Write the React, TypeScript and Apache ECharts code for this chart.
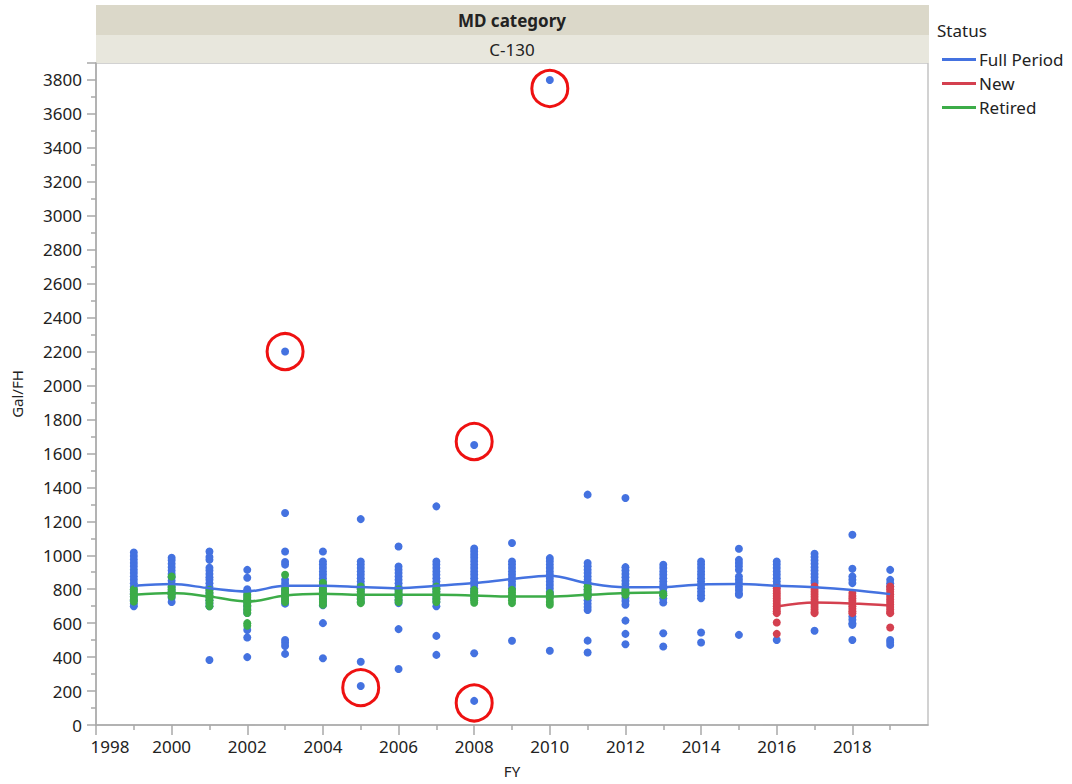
import React, { useEffect, useRef } from "react";
import * as echarts from "echarts";

const fullYears = [1999, 2000, 2001, 2002, 2003, 2004, 2005, 2006, 2007, 2008, 2009, 2010, 2011, 2012, 2013, 2014, 2015, 2016, 2017, 2018, 2019];
const fullPeriodValues: number[][] = [
  [1016, 995, 975, 955, 935, 915, 895, 875, 855, 835, 815, 795, 775, 755, 735, 715, 700],
  [985, 970, 950, 930, 910, 890, 870, 850, 830, 810, 790, 770, 750, 725],
  [1022, 990, 973, 926, 910, 890, 870, 855, 835, 815, 795, 775, 755, 735, 715, 700, 383],
  [914, 867, 800, 780, 760, 740, 720, 700, 680, 660, 560, 515, 400],
  [2200, 1249, 1022, 960, 945, 855, 835, 815, 795, 775, 755, 735, 715, 501, 485, 465, 419],
  [1022, 963, 945, 925, 905, 885, 865, 845, 825, 805, 785, 765, 745, 725, 705, 600, 393],
  [1213, 963, 945, 925, 905, 885, 865, 845, 825, 805, 785, 765, 745, 725, 373, 230],
  [1052, 934, 915, 895, 875, 855, 835, 815, 795, 775, 755, 735, 718, 565, 330],
  [1288, 963, 945, 925, 905, 885, 865, 845, 825, 805, 785, 765, 745, 725, 700, 525, 413],
  [1650, 1040, 1022, 1003, 985, 965, 945, 925, 905, 885, 865, 845, 825, 805, 785, 765, 745, 423, 142],
  [1072, 963, 945, 925, 905, 885, 865, 845, 825, 805, 496],
  [3800, 983, 965, 945, 925, 905, 885, 865, 845, 825, 805, 785, 767, 437],
  [1357, 954, 935, 915, 895, 875, 855, 835, 815, 795, 775, 755, 735, 715, 695, 678, 497, 427],
  [1337, 930, 910, 890, 870, 850, 830, 810, 790, 770, 750, 730, 708, 615, 537, 476],
  [944, 925, 905, 885, 865, 845, 825, 805, 785, 765, 745, 722, 541, 462],
  [963, 945, 925, 905, 885, 865, 845, 825, 805, 785, 765, 747, 545, 486],
  [1038, 973, 955, 935, 914, 875, 855, 835, 815, 795, 775, 767, 531],
  [963, 945, 925, 905, 885, 865, 845, 825, 816, 501],
  [1009, 990, 970, 950, 930, 910, 890, 870, 850, 836, 555],
  [1121, 920, 875, 855, 836, 639, 620, 600, 590, 501],
  [914, 855, 835, 816, 501, 487, 472],
];
const fullPeriodFit = [820, 830, 806, 787, 820, 820, 813, 806, 820, 836, 860, 879, 836, 812, 813, 828, 830, 820, 812, 796, 771];

const retiredYears = [1999, 2000, 2001, 2002, 2003, 2004, 2005, 2006, 2007, 2008, 2009, 2010, 2011, 2012, 2013];
const retiredValues: number[][] = [
  [800, 785, 770, 755, 740, 727],
  [875, 816, 800, 785, 770, 757],
  [796, 780, 765, 750, 735, 720, 700],
  [767, 750, 735, 720, 705, 690, 675, 660, 600, 585],
  [885, 800, 785, 770, 755, 740, 725],
  [838, 820, 800, 785, 770, 755, 740, 725, 708],
  [816, 800, 785, 770, 755, 740, 725, 718],
  [800, 785, 770, 755, 740, 725],
  [816, 800, 785, 770, 755, 740, 725],
  [796, 780, 765, 750, 735, 720],
  [796, 780, 765, 750, 735, 718],
  [777, 760, 745, 725, 708],
  [816, 800, 785, 770, 757],
  [796, 780, 767],
  [775, 765],
];
const retiredFit = [767, 777, 757, 727, 763, 773, 767, 767, 767, 763, 757, 757, 767, 777, 780];

const newYears = [2016, 2017, 2018, 2019];
const newValues: number[][] = [
  [806, 790, 775, 760, 745, 730, 715, 700, 685, 670, 659, 604, 537],
  [816, 800, 785, 770, 755, 740, 725, 710, 695, 680, 665, 659],
  [778, 760, 745, 730, 715, 700, 685, 670, 659],
  [816, 800, 785, 770, 755, 740, 725, 710, 695, 680, 665, 659, 574],
];
const newFit = [698, 722, 716, 704];

const circledYears = [2010, 2003, 2008, 2005, 2008];
const circledValues = [3750, 2200, 1670, 220, 130];

const xLabelTicks = [1998, 2000, 2002, 2004, 2006, 2008, 2010, 2012, 2014, 2016, 2018];

const BLUE = "#4472e0";
const RED = "#d4404f";
const GREEN = "#3cac48";
const FONT = "'Noto Sans', 'Open Sans', sans-serif";
const TXT = "#222222";

function toPoints(years: number[], values: number[][]) {
  const out: number[][] = [];
  years.forEach((y, i) => values[i].forEach((v) => out.push([y, v])));
  return out;
}
function toLine(years: number[], values: number[]) {
  return years.map((y, i) => [y, values[i]]);
}

export default function App() {
  const ref = useRef<HTMLDivElement>(null);
  useEffect(() => {
    if (!ref.current) return;
    const chart = echarts.init(ref.current, undefined, { renderer: "svg" });
    const left = 96, right = 928, top = 63, bottom = 725;
    const dot = (color: string) => ({ color, opacity: 1 });
    chart.setOption({
      animation: false,
      textStyle: { fontFamily: FONT },
      grid: {
        left,
        top,
        width: right - left,
        height: bottom - top,
        show: true,
        borderColor: "#c4c4c4",
        borderWidth: 1.5,
        backgroundColor: "#ffffff",
      },
      legend: {
        orient: "vertical",
        left: 937,
        top: 45,
        itemWidth: 34,
        itemHeight: 3,
        itemGap: 5,
        icon: "rect",
        selectedMode: false,
        textStyle: { fontFamily: FONT, fontSize: 17, color: TXT, lineHeight: 19, padding: [0, 0, 0, -2] },
        data: [
          { name: "Full Period", itemStyle: { color: BLUE } },
          { name: "New", itemStyle: { color: RED } },
          { name: "Retired", itemStyle: { color: GREEN } },
        ],
      },
      xAxis: {
        type: "value",
        min: 1998,
        max: 2020,
        interval: 2,
        name: "FY",
        nameLocation: "middle",
        nameGap: 38,
        nameTextStyle: { fontFamily: FONT, fontSize: 15, color: TXT },
        splitLine: { show: false },
        axisLine: { lineStyle: { color: "#a8a8a8", width: 1.5 } },
        axisTick: { customValues: xLabelTicks, length: 10, lineStyle: { color: "#a8a8a8", width: 1.5 } },
        minorTick: { show: true, splitNumber: 2, length: 5, lineStyle: { color: "#a8a8a8", width: 1.5 } },
        axisLabel: {
          customValues: xLabelTicks,
          margin: 13,
          fontFamily: FONT,
          fontSize: 17,
          color: TXT,
          formatter: (v: number) => (v === 1998 ? "{a|1998}" : String(v)),
          rich: { a: { fontFamily: FONT, fontSize: 17, color: TXT, padding: [0, 0, 0, 28] } },
        },
      },
      yAxis: {
        type: "value",
        min: 0,
        max: 3900,
        interval: 200,
        name: "Gal/FH",
        nameLocation: "middle",
        nameGap: 72,
        nameRotate: 90,
        nameTextStyle: { fontFamily: FONT, fontSize: 15, color: TXT },
        splitLine: { show: false },
        axisLine: { show: true, lineStyle: { color: "#a8a8a8", width: 1.5 } },
        axisTick: { show: true, length: 9, lineStyle: { color: "#a8a8a8", width: 1.5 } },
        minorTick: { show: true, splitNumber: 2, length: 5, lineStyle: { color: "#a8a8a8", width: 1.5 } },
        axisLabel: {
          showMaxLabel: false,
          margin: 14,
          fontFamily: FONT,
          fontSize: 17,
          color: TXT,
          formatter: (v: number) => String(v),
        },
      },
      graphic: [
        { type: "rect", shape: { x: left, y: 5, width: right - left + 1, height: 30 }, style: { fill: "#dbd8c9" }, silent: true },
        { type: "rect", shape: { x: left, y: 35, width: right - left + 1, height: 28 }, style: { fill: "#e8e7dd" }, silent: true },
        { type: "text", x: (left + right) / 2, y: 20, style: { text: "MD category", font: `bold 17px ${FONT}`, fill: TXT, textAlign: "center", textVerticalAlign: "middle" }, silent: true },
        { type: "text", x: (left + right) / 2, y: 49, style: { text: "C-130", font: `17px ${FONT}`, fill: TXT, textAlign: "center", textVerticalAlign: "middle" }, silent: true },
        { type: "text", x: 937, y: 30, style: { text: "Status", font: `17px ${FONT}`, fill: TXT, textAlign: "left", textVerticalAlign: "middle" }, silent: true },
      ],
      series: [
        { name: "Full Period pts", type: "scatter", symbol: "circle", symbolSize: 8, itemStyle: dot(BLUE), data: toPoints(fullYears, fullPeriodValues), z: 2 },
        { name: "New pts", type: "scatter", symbol: "circle", symbolSize: 8, itemStyle: dot(RED), data: toPoints(newYears, newValues), z: 3 },
        { name: "Retired pts", type: "scatter", symbol: "circle", symbolSize: 8, itemStyle: dot(GREEN), data: toPoints(retiredYears, retiredValues), z: 3 },
        { name: "Full Period", type: "line", smooth: 0.35, showSymbol: false, lineStyle: { color: BLUE, width: 2.5 }, itemStyle: { color: BLUE }, data: toLine(fullYears, fullPeriodFit), z: 4 },
        { name: "New", type: "line", smooth: 0.35, showSymbol: false, lineStyle: { color: RED, width: 2.5 }, itemStyle: { color: RED }, data: toLine(newYears, newFit), z: 4 },
        { name: "Retired", type: "line", smooth: 0.35, showSymbol: false, lineStyle: { color: GREEN, width: 2.5 }, itemStyle: { color: GREEN }, data: toLine(retiredYears, retiredFit), z: 4 },
        {
          name: "Circled",
          type: "scatter",
          symbol: "circle",
          symbolSize: 36,
          itemStyle: { color: "rgba(0,0,0,0)", borderColor: "#ee1111", borderWidth: 3, opacity: 1 },
          data: toLine(circledYears, circledValues),
          z: 5,
          silent: true,
        },
      ],
    });
    return () => chart.dispose();
  }, []);
  return <div ref={ref} style={{ position: "absolute", left: 0, top: 0, width: 1072, height: 784 }} />;
}
